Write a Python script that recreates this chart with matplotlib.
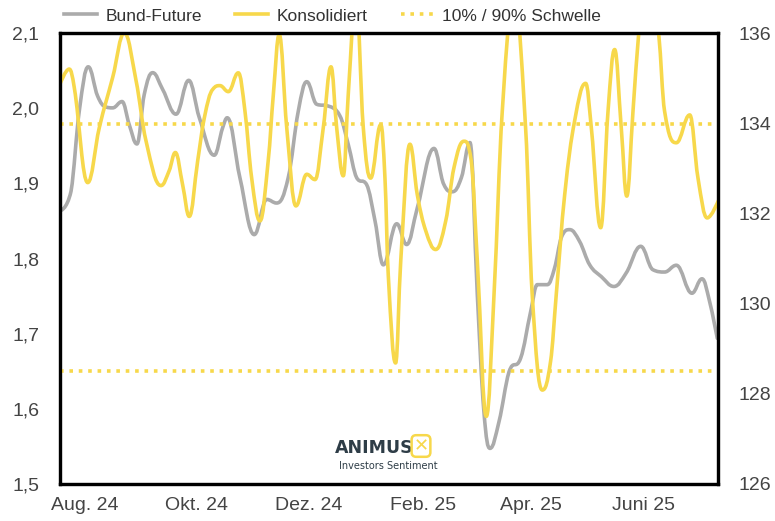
import datetime as dt
import numpy as np
import matplotlib
matplotlib.use("Agg")
import matplotlib.pyplot as plt
import matplotlib.dates as mdates
from matplotlib.path import Path
from matplotlib.patches import PathPatch
from matplotlib.lines import Line2D

plt.rcParams['font.family'] = ['Liberation Sans', 'DejaVu Sans']

# ---------------- data ----------------
base_date = dt.date(2024, 8, 1)

# Konsolidiert (left axis) : day offset from base_date, value
kons_days = [-13.6, -8.6, -5.8, 1.5, 7.8, 15.1, 21.4, 27.8, 33.2, 41.4, 45.9, 49.2, 53.2, 56.8,
             61.4, 65.0, 69.6, 73.5, 78.1, 83.5, 87.1, 90.8, 95.3, 99.8, 102.6, 105.8, 109.9,
             114.9, 120.8, 125.3, 129.8, 134.0, 137.1, 140.7, 143.4, 147.6, 151.6, 155.6, 161.1,
             163.4, 165.2, 169.2, 172.0, 177.0, 181.0, 185.6, 191.0, 196.5, 201.0, 206.4, 210.4,
             213.7, 218.6, 222.8, 227.3, 233.7, 240.0, 243.6, 249.1, 253.6, 256.7, 261.3, 266.7,
             272.7, 275.8, 280.9, 284.9, 288.5, 292.1, 295.1, 298.5, 301.6, 306.6, 312.5, 315.7,
             322.1, 329.4, 333.9, 338.9, 344.8]
kons_vals = [2.032, 2.052, 2.027, 1.901, 1.974, 2.041, 2.100, 2.037, 1.957, 1.897, 1.917, 1.941,
             1.898, 1.856, 1.930, 1.987, 2.025, 2.030, 2.022, 2.047, 1.997, 1.907, 1.850, 1.930,
             2.018, 2.098, 1.974, 1.870, 1.912, 1.905, 1.974, 2.055, 1.974, 1.910, 2.018, 2.150,
             1.974, 1.907, 1.978, 1.907, 1.778, 1.661, 1.797, 1.952, 1.885, 1.837, 1.812, 1.850,
             1.921, 1.956, 1.930, 1.797, 1.590, 1.752, 1.996, 2.150, 1.974, 1.752, 1.625, 1.663,
             1.752, 1.885, 1.983, 2.033, 1.974, 1.841, 1.996, 2.078, 1.974, 1.883, 1.996, 2.099,
             2.220, 2.099, 1.996, 1.954, 1.991, 1.907, 1.854, 1.876]

# Bund-Future (right axis)
bund_days = [-13.6, -7.6, -3.1, 1.8, 6.9, 11.4, 15.1, 20.2, 24.1, 28.3, 32.3, 36.9, 42.3, 49.6,
             56.5, 62.3, 70.4, 75.0, 77.5, 84.4, 92.2, 99.0, 104.4, 110.7, 116.2, 120.8, 126.2,
             132.5, 138.9, 143.4, 148.0, 153.4, 158.0, 162.5, 169.8, 175.2, 181.0, 190.1, 195.5,
             200.1, 205.0, 209.7, 213.7, 217.3, 220.6, 225.5, 231.0, 237.3, 242.8, 246.4, 251.8,
             255.8, 259.4, 264.0, 269.4, 274.9, 281.2, 288.1, 294.8, 302.7, 309.4, 315.7, 322.1,
             330.6, 336.1, 340.2, 344.4]
bund_vals = [132.06, 132.49, 134.27, 135.25, 134.60, 134.36, 134.34, 134.48, 133.97, 133.54,
             134.64, 135.12, 134.75, 134.20, 134.95, 134.12, 133.29, 133.90, 134.12, 132.79,
             131.53, 132.31, 132.23, 132.79, 134.27, 134.92, 134.42, 134.38, 134.16, 133.53,
             132.79, 132.64, 131.83, 130.86, 131.77, 131.31, 132.12, 133.44, 132.64, 132.48,
             132.79, 133.57, 130.20, 127.60, 126.79, 127.38, 128.49, 128.79, 129.83, 130.42,
             130.42, 130.79, 131.46, 131.64, 131.38, 130.86, 130.60, 130.38, 130.68, 131.27,
             130.75, 130.70, 130.85, 130.23, 130.55, 130.05, 129.23]

threshold_upper = 1.979
threshold_lower = 1.650

x_start_day = -13.6
x_end_day = 344.8

tick_dates = [dt.date(2024, 8, 1), dt.date(2024, 10, 1), dt.date(2024, 12, 1),
              dt.date(2025, 2, 1), dt.date(2025, 4, 1), dt.date(2025, 6, 1)]
tick_labels = ["Aug. 24", "Okt. 24", "Dez. 24", "Feb. 25", "Apr. 25", "Juni 25"]

left_ticks = [1.5, 1.6, 1.7, 1.8, 1.9, 2.0, 2.1]
left_labels = ["1,5", "1,6", "1,7", "1,8", "1,9", "2,0", "2,1"]
right_ticks = [126, 128, 130, 132, 134, 136]

legend_labels = ["Bund-Future", "Konsolidiert", "10% / 90% Schwelle"]

YELLOW = "#F7D84B"
GRAY = "#ABABAB"
TXT = "#444444"

base_num = mdates.date2num(base_date)


def spline_path(xs, ys):
    """Smooth spline path (Highcharts-style control points) in data coordinates."""
    xs = np.asarray(xs, float)
    ys = np.asarray(ys, float)
    n = len(xs)
    lc = [(xs[i], ys[i]) for i in range(n)]
    rc = [(xs[i], ys[i]) for i in range(n)]
    s, den = 1.5, 2.5
    for i in range(1, n - 1):
        x, y = xs[i], ys[i]
        lx, ly, nx, ny = xs[i - 1], ys[i - 1], xs[i + 1], ys[i + 1]
        lcx = (s * x + lx) / den
        lcy = (s * y + ly) / den
        rcx = (s * x + nx) / den
        rcy = (s * y + ny) / den
        corr = 0.0
        if rcx != lcx:
            corr = (rcy - lcy) * (rcx - x) / (rcx - lcx) + y - rcy
        lcy += corr
        rcy += corr
        if lcy > ly and lcy > y:
            lcy = max(ly, y); rcy = 2 * y - lcy
        elif lcy < ly and lcy < y:
            lcy = min(ly, y); rcy = 2 * y - lcy
        if rcy > ny and rcy > y:
            rcy = max(ny, y); lcy = 2 * y - rcy
        elif rcy < ny and rcy < y:
            rcy = min(ny, y); lcy = 2 * y - rcy
        lc[i] = (lcx, lcy)
        rc[i] = (rcx, rcy)
    verts = [(xs[0], ys[0])]
    codes = [Path.MOVETO]
    for i in range(1, n):
        verts += [rc[i - 1], lc[i], (xs[i], ys[i])]
        codes += [Path.CURVE4] * 3
    return Path(verts, codes)


fig = plt.figure(figsize=(7.75, 5.21), dpi=100)
ax = fig.add_axes([60 / 775, 37 / 521, 658 / 775, 451 / 521])
ax2 = ax.twinx()
ax.set_zorder(ax2.get_zorder() + 1)
ax.patch.set_visible(False)

kx = base_num + np.asarray(kons_days)
bx = base_num + np.asarray(bund_days)

# gray Bund-Future on right axis
ax2.add_patch(PathPatch(spline_path(bx, bund_vals), fill=False, edgecolor=GRAY,
                        linewidth=2.6, capstyle='round', joinstyle='round'))
# yellow Konsolidiert on left axis
ax.add_patch(PathPatch(spline_path(kx, kons_vals), fill=False, edgecolor=YELLOW,
                       linewidth=2.6, capstyle='round', joinstyle='round'))
dot_style = (0, (1.0, 1.6))
for th in (threshold_upper, threshold_lower):
    ax.axhline(th, color=YELLOW, linewidth=2.6, linestyle=dot_style, dash_capstyle='butt')

xmin, xmax = base_num + x_start_day, base_num + x_end_day
for a in (ax, ax2):
    a.set_xlim(xmin, xmax)
    for sp in a.spines.values():
        sp.set_linewidth(2.3)
        sp.set_color("black")
ax.set_ylim(1.5, 2.1)
ax2.set_ylim(126, 136)

ax.set_xticks([mdates.date2num(d) for d in tick_dates])
ax.set_xticklabels(tick_labels)
ax.set_yticks(left_ticks)
ax.set_yticklabels(left_labels)
ax2.set_yticks(right_ticks)
ax2.set_yticklabels([str(v) for v in right_ticks])
ax.tick_params(axis='both', length=0, labelsize=14, colors=TXT)
ax.tick_params(axis='y', pad=15)
ax.tick_params(axis='x', pad=9)
ax2.tick_params(axis='y', length=0, labelsize=14, colors=TXT, pad=15)

# legend
handles = [Line2D([], [], color=GRAY, linewidth=2.6),
           Line2D([], [], color=YELLOW, linewidth=2.6),
           Line2D([], [], color=YELLOW, linewidth=2.6, linestyle=dot_style, dash_capstyle='butt')]
leg = fig.legend(handles, legend_labels, loc='center left', bbox_to_anchor=(57 / 775, 1 - 16 / 521),
                 ncol=3, frameon=False, fontsize=12.5, handlelength=1.9, handletextpad=0.5,
                 columnspacing=1.9, borderaxespad=0)
for t in leg.get_texts():
    t.set_color("#333333")

# watermark logo
fig.text(374 / 775, 1 - 448 / 521, "ANIMUS", ha='center', va='center', fontsize=12.5,
         fontweight='bold', color="#2E3D47", family=['DejaVu Sans'])
fig.text(388 / 775, 1 - 466 / 521, "Investors Sentiment", ha='center', va='center', fontsize=7,
         color="#2E3D47", family=['DejaVu Sans'])
fig.text(421 / 775, 1 - 446 / 521, "✕", ha='center', va='center', fontsize=13, color=YELLOW,
         fontweight='bold', family=['DejaVu Sans'],
         bbox=dict(boxstyle='round,pad=0.1,rounding_size=0.25', fc='none', ec=YELLOW, lw=1.8))

fig.savefig("out.png", dpi=100)
